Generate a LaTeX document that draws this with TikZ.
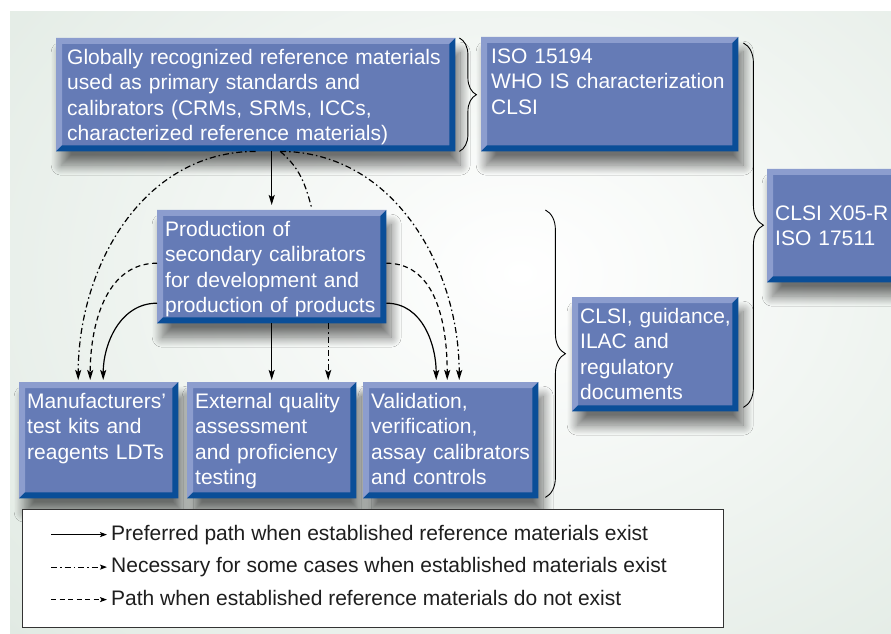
\documentclass[tikz,border=0pt]{standalone}
\usepackage{fontspec}
\setmainfont{Liberation Sans}
\usetikzlibrary{arrows.meta,calc,decorations.pathreplacing,shadows.blur}
\definecolor{boxblue}{RGB}{101,123,182}
\definecolor{bevlit}{RGB}{140,157,206}
\definecolor{bevdark}{RGB}{10,78,152}
\definecolor{bgout}{RGB}{212,225,215}
\definecolor{legtext}{RGB}{30,30,30}
\tikzset{
  bluebox/.style={fill=boxblue, text=white, align=left, anchor=north west,
    inner xsep=8pt, inner ysep=11pt, text height=15pt,
    font=\fontsize{21pt}{25.5pt}\selectfont,
    execute at begin node={\hyphenpenalty=10000\relax},
    blur shadow={shadow xshift=5pt, shadow yshift=-14pt, shadow blur radius=10pt,
      shadow blur steps=20, shadow opacity=55}},
  prefpath/.style={line width=1.2pt, shorten >=2pt, -{Stealth[length=10pt,width=6pt,inset=2pt]}},
  casepath/.style={prefpath, dash pattern=on 6pt off 3pt on 1.5pt off 3pt},
  norefpath/.style={prefpath, dash pattern=on 5pt off 3.5pt},
  legtip/.style={shorten >=4pt, -{Stealth[length=7pt,width=5pt,inset=1.5pt]}},
  legtxt/.style={anchor=base west, inner sep=0pt, text=legtext, text height=15.2pt, text depth=4.4pt,
    font=\fontsize{21pt}{25pt}\selectfont},
  bracket/.style={decorate, decoration={brace, amplitude=#1}, line width=0.9pt}
}
\begin{document}
\begin{tikzpicture}[x=1pt,y=1pt]
\useasboundingbox (0,0) rectangle (891,633);
% background
\fill[bgout] (10,0) rectangle (891,621);
\begin{scope}
  \clip (10,0) rectangle (891,621);
  \shade[inner color=white, outer color=bgout] (520,360) ellipse (1000 and 760);
\end{scope}

% boxes
\node[bluebox, inner xsep=11pt, minimum width=399pt, minimum height=113pt, text width=377pt, text depth=76pt] (glob) at (56,595)
  {Globally recognized reference materials\\used as primary standards and\\calibrators (CRMs, SRMs, ICCs,\\characterized reference materials)};
\node[bluebox, inner xsep=10pt, minimum width=257pt, minimum height=114pt, text width=237pt, text depth=77pt] (iso) at (481,596)
  {ISO 15194\\WHO IS characterization\\CLSI};
\node[bluebox, minimum width=132pt, minimum height=113pt, text width=116pt] (x05) at (767,464)
  {CLSI X05-R\\ISO 17511};
\node[bluebox, minimum width=229pt, minimum height=113pt, text width=213pt, text depth=76pt] (prod) at (157,423)
  {Production of\\secondary calibrators\\for development and\\production of products};
\node[bluebox, minimum width=166pt, minimum height=114pt, text width=150pt, text depth=77pt] (guide) at (572,336)
  {CLSI,~guidance,\\ILAC and\\regulatory\\documents};
\node[bluebox, minimum width=159pt, minimum height=116pt, text width=143pt, text depth=79pt] (manu) at (19,251)
  {Manufacturers’\\test kits and\\reagents LDTs};
\node[bluebox, minimum width=169pt, minimum height=116pt, text width=153pt, text depth=79pt] (ext) at (187,251)
  {External quality\\assessment\\and proficiency\\testing};
\node[bluebox, minimum width=175pt, minimum height=116pt, text width=159pt, text depth=79pt] (val) at (363,251)
  {Validation,\\verification,\\assay calibrators\\and controls};

% bevel edges
\foreach \b in {glob,iso,x05,prod,guide,manu,ext,val}{
  \fill[bevlit] (\b.south west) -- (\b.north west) -- (\b.north east) -- ($(\b.north east)+(-6,-6)$)
    -- ($(\b.north west)+(6,-6)$) -- ($(\b.south west)+(6,6)$) -- cycle;
  \fill[bevdark] (\b.south west) -- (\b.south east) -- (\b.north east) -- ($(\b.north east)+(-6,-6)$)
    -- ($(\b.south east)+(-6,6)$) -- ($(\b.south west)+(6,6)$) -- cycle;
}

% braces
\draw[bracket=17pt] ([xshift=4pt]glob.north east) -- ([xshift=4pt]glob.south east);
\draw[bracket=20pt] ([xshift=5pt,yshift=-6pt]iso.north east) -- ([xshift=5pt,yshift=4pt]guide.south east);
\draw[bracket=20pt] ($(val.east |- prod.north)+(7,0)$) -- ($(val.south east)+(7,1)$);

% paths
\draw[prefpath, shorten >=5pt] (prod.north |- glob.south) -- (prod.north);
\draw[casepath, -] ([xshift=24.5pt]glob.south) to[out=-40,in=105] ([xshift=40.5pt]prod.north);
\draw[casepath] (glob.south) to[out=180,in=90] ([xshift=-20.5pt]manu.north);
\draw[casepath] ([xshift=24.5pt]glob.south) to[out=0,in=90] ([xshift=8.5pt]val.north);
\draw[norefpath] ([yshift=3.5pt]prod.west) to[out=180,in=90] ([xshift=-8.5pt]manu.north);
\draw[prefpath] ([yshift=-36.5pt]prod.west) to[out=180,in=90] ([xshift=4.5pt]manu.north);
\draw[norefpath] ([yshift=3.5pt]prod.east) to[out=0,in=90] ([xshift=-3.5pt]val.north);
\draw[prefpath] ([yshift=-36.5pt]prod.east) to[out=0,in=90] ([xshift=-14.5pt]val.north);
\draw[prefpath] (prod.south) -- (ext.north);
\draw[casepath] ([xshift=56.5pt]prod.south) -- ([xshift=56.5pt]ext.north);

% legend
\node[draw=black!80, fill=white, line width=0.8pt, minimum width=701pt, minimum height=118pt,
  anchor=north west, inner sep=0pt] (legend) at (22,124) {};
\node[legtxt] (lg1) at (111,93) {Preferred path when established reference materials exist};
\node[legtxt] (lg2) at (111,60.5) {Necessary for some cases when established materials exist};
\node[legtxt] (lg3) at (111,28) {Path when established reference materials do not exist};
\coordinate (la1) at ($(lg1.west -| legend.west)+(29,0)$);
\coordinate (la2) at ($(lg2.west -| legend.west)+(29,0)$);
\coordinate (la3) at ($(lg3.west -| legend.west)+(29,0)$);
\draw[prefpath, legtip] (la1) -- (lg1.west);
\draw[casepath, legtip] (la2) -- (lg2.west);
\draw[norefpath, legtip] (la3) -- (lg3.west);
\end{tikzpicture}
\end{document}
